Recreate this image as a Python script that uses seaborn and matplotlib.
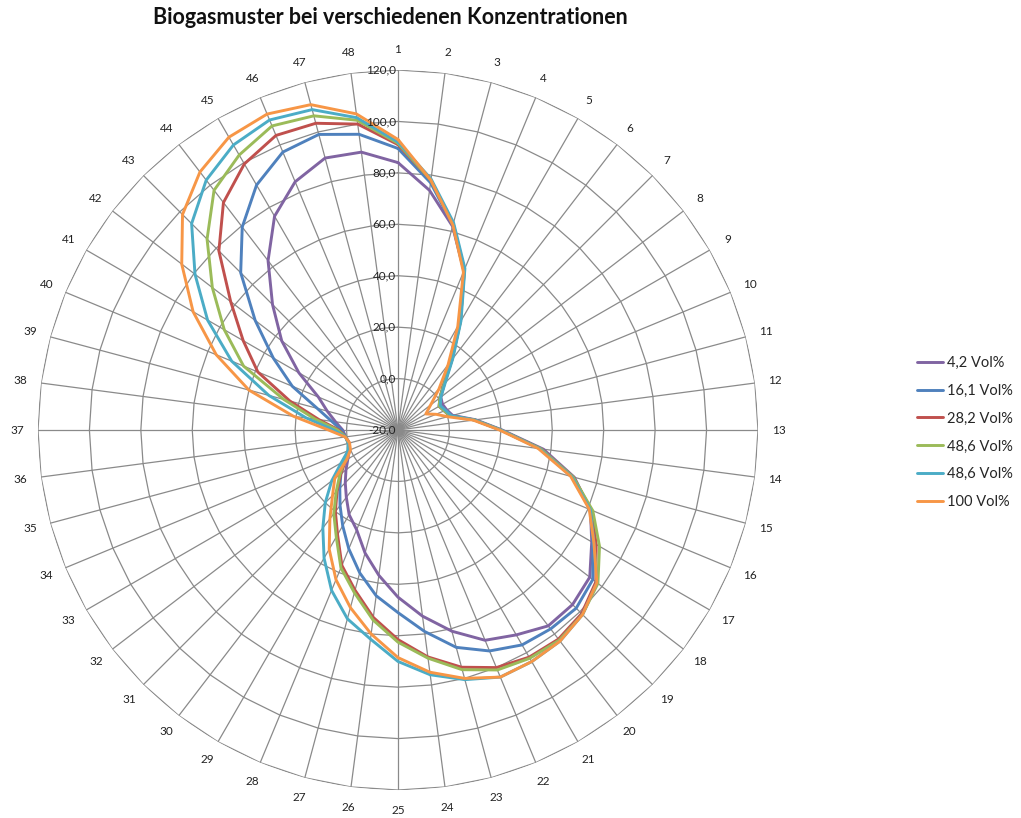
import numpy as np
import matplotlib
matplotlib.use("Agg")
import matplotlib.pyplot as plt
from matplotlib.transforms import offset_copy
import seaborn as sns

# Spoke (category) labels 1..48 and series names
spokes = [str(i) for i in range(1, 49)]
series_labels = ["4,2 Vol%", "16,1 Vol%", "28,2 Vol%", "48,6 Vol%", "48,6 Vol%", "100 Vol%"]

# Measured pattern values per spoke
vol_4_2 = [84, 74, 62, 47, 28, 14, 5.5, 1, 0, 0.5, 2, 10.5, 20.5, 37, 51, 61, 67, 74, 76, 76,
           72, 68.5, 61, 53, 45, 37, 29.5, 22, 18, 13, 9, 5.5, 2.5, 0.5, 0, 0.5, 1.5, 4.5, 8.5, 13.5,
           24.5, 37, 49, 63, 76, 84.5, 89.5, 89]
vol_16_1 = [89.5, 77, 62.5, 47, 28, 14, 5, 0.5, -1.5, -0.5, 1, 10, 20, 36, 50, 61, 67.5, 75.5, 78, 77.5,
            76.5, 73, 67.5, 59, 51, 45, 37.5, 30, 23, 17, 12, 8, 4, 1, 0, 0.5, 2, 6, 12.5, 24.5,
            36, 50, 66.5, 79.5, 90, 97, 99, 96]
vol_28_2 = [91, 78, 63, 47.5, 28.5, 14.5, 5.5, 0.5, -1.5, -0.5, 1, 10, 20, 36, 50.5, 61.5, 69, 77, 81, 82.5,
            82, 80, 75.5, 69, 61.5, 53.5, 44.5, 37, 27, 20, 13.5, 8, 3.5, 0.5, -0.5, 0.5, 3, 11, 23.5, 39,
            49.5, 62, 78.5, 91.5, 99.5, 104, 103.5, 100]
vol_48_6_a = [91.5, 78, 63, 47.5, 28.5, 14.5, 5.5, 0.5, -1.5, -0.5, 1, 10, 20, 36, 50.5, 62, 70.5, 78, 81.5, 83,
              82.5, 81, 76.5, 69.5, 62.5, 54.5, 45.5, 38, 28, 21, 14, 8.5, 4, 1, 0, 0.5, 3.5, 12.5, 26, 45,
              58, 71, 85, 97.5, 103.5, 108, 106.5, 101.5]
vol_48_6_b = [92, 78.5, 63.5, 48, 29, 15, 6, 1, -1, 0, 1.5, 10, 20, 35.5, 50, 61, 68, 77.5, 81.5, 83.5,
              84, 84, 80.5, 76, 70, 62, 56, 47.5, 37.5, 28, 20, 12.5, 5.5, 1, 0, 0.5, 5, 16, 32, 50,
              65.5, 79.5, 93.5, 102.5, 108, 110.5, 109, 102.5]
vol_100 = [93, 78, 62.5, 46.5, 26.5, 12, 2.5, -4, -7.5, -4, 0, 9.5, 19.5, 35, 49.5, 60.5, 68, 77.5, 81.5, 83.5,
           84, 84, 80, 75, 68.5, 60, 51.5, 43, 33.5, 23.5, 16, 11, 3, 0, -0.5, 0.7, 7, 21, 40, 56.5,
           72, 86, 98.5, 106.5, 111.5, 113, 111, 104]

ring_values = [-20, 0, 20, 40, 60, 80, 100, 120]
colors = ["#8064A2", "#4F81BD", "#C0504D", "#9BBB59", "#4BACC6", "#F79646"]
all_series = [vol_4_2, vol_16_1, vol_28_2, vol_48_6_a, vol_48_6_b, vol_100]

sns.set_theme(style="white")
plt.rcParams['font.family'] = ['Lato', 'DejaVu Sans']

fig = plt.figure(figsize=(10.21, 8.18), dpi=100)
ax = fig.add_axes([0.0372, 0.0342, 0.7052, 0.8802], projection='polar')
ax.set_theta_zero_location('N')
ax.set_theta_direction(-1)
ax.set_ylim(ring_values[0], ring_values[-1])
ax.grid(False)
ax.set_xticks([])
ax.set_yticks([])
ax.spines['polar'].set_visible(False)
ax.patch.set_alpha(0)

n = len(spokes)
theta = np.deg2rad(np.arange(n) * 360.0 / n)
theta_closed = np.append(theta, theta[0] + 2 * np.pi)

# Polygonal gridlines and spokes
grid_c = '#8a8a8a'
for v in ring_values[1:]:
    ax.plot(theta_closed, [v] * len(theta_closed), color=grid_c, lw=0.9, zorder=1)
for t in theta:
    ax.plot([t, t], [ring_values[0], ring_values[-1]], color=grid_c, lw=0.9, zorder=1)

# Data series
for lab, vals, col in zip(series_labels, all_series, colors):
    closed = np.append(vals, vals[0])
    sns.lineplot(x=theta_closed, y=closed, ax=ax, color=col, lw=2.1, sort=False,
                 estimator=None, label=lab, zorder=3)
ax.set_xlabel("")
ax.set_ylabel("")

# Value axis labels along the first spoke
lab_tr = offset_copy(ax.transData, fig=fig, x=-2, y=0, units='dots')
for v in ring_values:
    ax.text(0, v, f"{v:.1f}".replace('.', ','), ha='right', va='center',
            fontsize=8.5, color='#222222', transform=lab_tr, zorder=4)

# Spoke labels
for t, s in zip(theta, spokes):
    ax.text(t, 128, s, ha='center', va='center', fontsize=8.5, color='#222222')

handles, labels = ax.get_legend_handles_labels()
if ax.get_legend() is not None:
    ax.get_legend().remove()
fig.legend(handles, labels, loc='upper left', bbox_to_anchor=(0.898, 0.565),
           frameon=False, fontsize=10.5, handlelength=1.8, handletextpad=0.25,
           labelspacing=0.95, borderpad=0, borderaxespad=0)

fig.text(0.382, 0.978, "Biogasmuster bei verschiedenen Konzentrationen",
         ha='center', va='center', fontsize=15.5, fontweight='bold', color='#111111')

fig.savefig("out.png", dpi=100, facecolor='white')
